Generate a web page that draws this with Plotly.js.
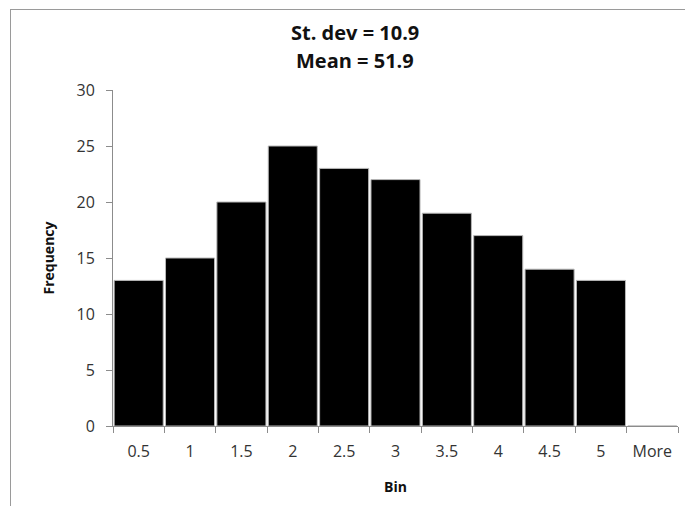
<!DOCTYPE html>
<html>
<head>
<meta charset="utf-8">
<script src="https://cdn.plot.ly/plotly-3.0.1.min.js"></script>
<style>
  html, body { margin: 0; padding: 0; background: #fff; }
  #frame { position: absolute; left: 10px; top: 9px; width: 700px; height: 600px;
           border-left: 1px solid #9a9a9a; border-top: 1px solid #9a9a9a; }
  #chart { position: absolute; left: 0; top: 0; width: 685px; height: 506px; }
</style>
</head>
<body>
<div id="frame"></div>
<div id="chart"></div>
<script>
const bins = ['0.5', '1', '1.5', '2', '2.5', '3', '3.5', '4', '4.5', '5', 'More'];
const frequency = [13, 15, 20, 25, 23, 22, 19, 17, 14, 13, 0];
const titleLines = ['St. dev = 10.9', 'Mean = 51.9'];
const yTicks = [0, 5, 10, 15, 20, 25, 30];

const FONT = '"Open Sans", Lato, sans-serif';

Plotly.newPlot('chart', [{
  type: 'bar',
  x: bins,
  y: frequency,
  marker: { color: '#000000', line: { color: '#b8b8b8', width: 1 } },
  hoverinfo: 'x+y'
}], {
  width: 685, height: 506,
  margin: { l: 113, r: 7, t: 90, b: 80 },
  paper_bgcolor: 'rgba(0,0,0,0)',
  plot_bgcolor: 'rgba(0,0,0,0)',
  bargap: 0.045,
  showlegend: false,
  font: { family: FONT, color: '#222' },
  annotations: [
    { text: titleLines[0], xref: 'paper', yref: 'paper', x: 0.428, y: 1.17,
      xanchor: 'center', yanchor: 'middle', showarrow: false,
      font: { family: FONT, size: 20, color: '#111', weight: 'bold' } },
    { text: titleLines[1], xref: 'paper', yref: 'paper', x: 0.428, y: 1.089,
      xanchor: 'center', yanchor: 'middle', showarrow: false,
      font: { family: FONT, size: 20, color: '#111', weight: 'bold' } }
  ],
  xaxis: {
    type: 'category',
    showline: true, linecolor: '#8c8c8c', linewidth: 1,
    ticks: 'outside', tickson: 'boundaries', ticklen: 6, tickcolor: '#8c8c8c',
    ticklabelstandoff: 11,
    showgrid: false, zeroline: false,
    tickfont: { family: FONT, size: 16, color: '#333' },
    title: { text: 'Bin', font: { family: FONT, size: 14, color: '#111', weight: 'bold' }, standoff: 20 },
    fixedrange: true
  },
  yaxis: {
    range: [0, 30],
    tickvals: yTicks,
    showline: true, linecolor: '#8c8c8c', linewidth: 1,
    ticks: 'outside', ticklen: 6, tickcolor: '#8c8c8c',
    ticklabelstandoff: 8,
    showgrid: false, zeroline: false,
    tickfont: { family: FONT, size: 16, color: '#333' },
    title: { text: 'Frequency', font: { family: FONT, size: 14, color: '#111', weight: 'bold' }, standoff: 18 },
    fixedrange: true
  }
}, { displayModeBar: false, staticPlot: true });
</script>
</body>
</html>
